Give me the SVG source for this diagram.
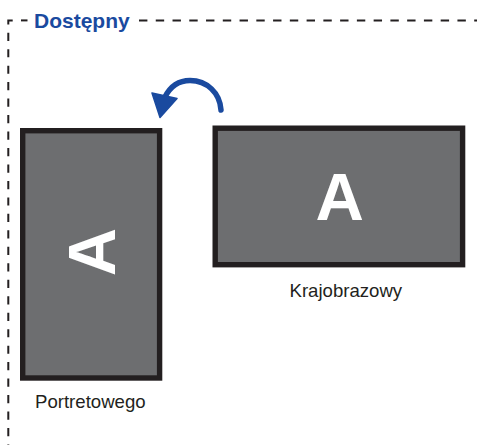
<svg xmlns="http://www.w3.org/2000/svg" width="477" height="445" viewBox="0 0 477 445">
<style>
.frame{fill:none;stroke:#231f20;stroke-width:2}
.panel{fill:#6d6e70;stroke:#231f20;stroke-width:5.4}
.big{font:bold 67px "Liberation Sans",Arial,sans-serif;fill:#fff;text-anchor:middle}
.cap{font:18.6px "Liberation Sans",Arial,sans-serif;fill:#231f20}
.title{font:bold 21px "Liberation Sans",Arial,sans-serif;fill:#1a4a9f}
</style>
<rect width="477" height="445" fill="#fff"/>
<g id="connectors">
<path class="frame" stroke-dasharray="8.2 8.27" d="M8.3 32.700V445"/>
<path class="frame" d="M8.300 24.500V20.400H12.700"/>
<path class="frame" d="M21 20.400H27.500"/>
<path class="frame" stroke-dasharray="8.4 8.36" d="M139 20.400H477"/>
<path d="M221 110C220 93 207 80.500 190 80.500C178 80.500 170 87 165 97" fill="none" stroke="#1a4a9f" stroke-width="5.5" stroke-linecap="round"/>
<path d="M152 93L177 98.500L160 117.500Z" fill="#1a4a9f" stroke="#1a4a9f" stroke-width="1.500" stroke-linejoin="round"/>
</g>
<g id="available"><text class="title" x="34" y="27.500">Dostępny</text></g>
<g id="portrait">
<rect class="panel" x="22.700" y="130.700" width="136.900" height="247.300"/>
<text class="big" transform="translate(115 252) rotate(-90)">A</text>
<text class="cap" x="35" y="407.500">Portretowego</text>
</g>
<g id="landscape">
<rect class="panel" x="215.200" y="128.200" width="247.400" height="136.500"/>
<text class="big" x="339.700" y="220">A</text>
<text class="cap" x="289.500" y="296.500">Krajobrazowy</text>
</g>
</svg>
